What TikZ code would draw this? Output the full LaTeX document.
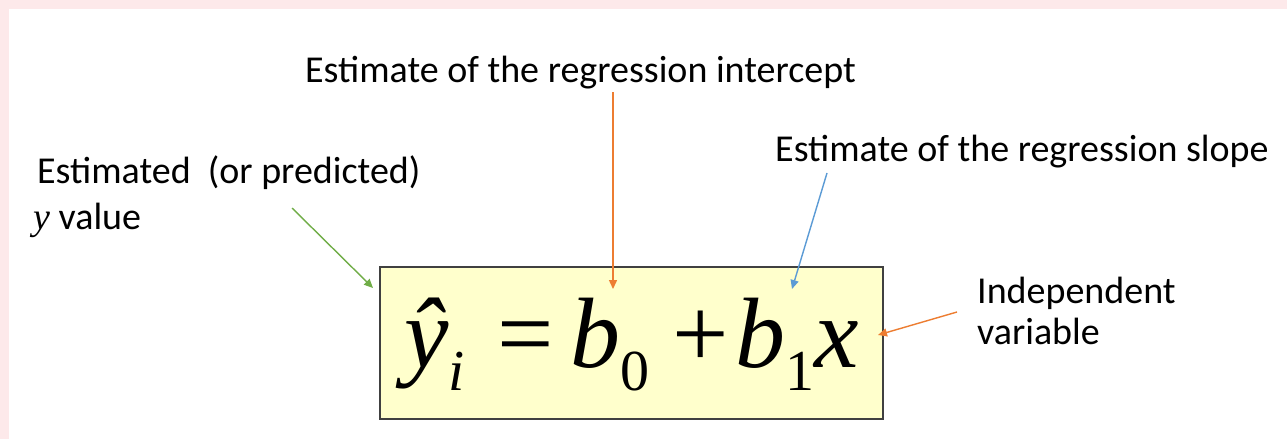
\documentclass[tikz,border=0pt]{standalone}
\usepackage{fontspec}
\setmainfont{Carlito}
\newfontfamily\tnr{Liberation Serif}
\usetikzlibrary{arrows.meta}
\definecolor{pinkbg}{HTML}{FDE9EA}
\definecolor{boxfill}{HTML}{FFFFCC}
\definecolor{boxline}{HTML}{404040}
\definecolor{arrgreen}{HTML}{70AD47}
\definecolor{arrorange}{HTML}{ED7D31}
\definecolor{arrblue}{HTML}{5B9BD5}
\newcommand{\eqsub}[1]{\raisebox{-23pt}{\fontsize{58}{58}\selectfont #1}}
\begin{document}
\begin{tikzpicture}[x=1pt,y=-1pt,
 lbl/.style={anchor=base west,inner sep=0pt,font=\fontsize{38}{46}\selectfont,text=black},
 eq/.style={anchor=base west,inner sep=0pt,font=\tnr\fontsize{100}{100}\selectfont},
 pointer/.style={line width=1.4pt,-{Triangle[length=9pt,width=8pt]}}]
\fill[white] (0,0) rectangle (1287,439);
\useasboundingbox (0,0) rectangle (1287,439);
\fill[pinkbg] (0,0) rectangle (1287,9);
\fill[pinkbg] (0,0) rectangle (9,439);
\node[draw=boxline,fill=boxfill,line width=2pt,minimum width=503pt,minimum height=152pt,inner sep=0pt,anchor=north west] (box) at (379,266) {};
% equation
\node[eq] (yhat) at (404,367) {\itshape ŷ\eqsub{i}};
\node[eq] (eqsign) at (497,367) {=};
\node[eq] (b0) at (570,367) {\itshape b\eqsub{\upshape 0}};
\node[eq] (plus) at (672,367) {+};
\node[eq] (b1x) at (735,367) {\itshape b\eqsub{\upshape 1}x};
% labels
\node[lbl] (intercept) at (305,82) {Estimate of the regression intercept};
\node[lbl] (slope) at (775,161) {Estimate of the regression slope};
\node[lbl] (est1) at (37,183) {Estimated\ \ (or predicted)};
\node[lbl] (est2) at (33,229) {{\tnr\itshape y} value};
\node[lbl] (indep1) at (977,303) {Independent};
\node[lbl] (indep2) at (977,344) {variable};
% arrow end points
\coordinate (gs) at (292,208); \coordinate (ge) at (373,288);
\coordinate (os) at (613,92);  \coordinate (oe) at (613,289);
\coordinate (bs) at (827,173); \coordinate (be) at (792,289);
\coordinate (rs) at (957,312); \coordinate (re) at (878,335);
\draw[pointer,arrgreen] (gs) -- (ge);
\draw[pointer,arrorange] (os) -- (oe);
\draw[pointer,arrblue] (bs) -- (be);
\draw[pointer,arrorange] (rs) -- (re);
\end{tikzpicture}
\end{document}
